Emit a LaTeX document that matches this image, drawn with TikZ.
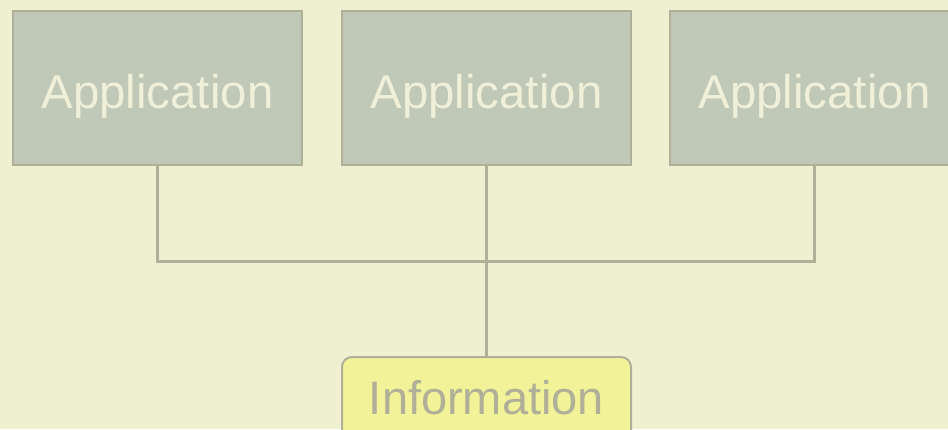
\documentclass[tikz,border=0pt]{standalone}
\usepackage{fontspec}
\setmainfont{Liberation Sans}
\definecolor{bgcol}{HTML}{EFF0D0}
\definecolor{appfill}{HTML}{C0C8B8}
\definecolor{edgecol}{HTML}{B0B098}
\definecolor{apptext}{HTML}{F0F0D8}
\definecolor{infofill}{HTML}{F2F298}
\tikzset{
  appbox/.style={draw=edgecol, line width=2pt, fill=appfill, text=apptext,
    minimum width=289pt, minimum height=154pt, inner sep=0pt,
    font=\fontsize{47.4pt}{50pt}\selectfont, text height=40pt, text depth=0pt},
  infobox/.style={draw=edgecol, line width=2pt, fill=infofill, text=edgecol,
    rounded corners=10pt, minimum width=289pt, minimum height=94pt, inner sep=0pt,
    font=\fontsize{47pt}{50pt}\selectfont, text height=20pt, text depth=0pt},
  link/.style={draw=edgecol, line width=3pt}
}
\begin{document}
\begin{tikzpicture}[x=1pt,y=-1pt]
  \fill[bgcol] (0,0) rectangle (948,429);
  \useasboundingbox (0,0) rectangle (948,429);
  \clip (0,0) rectangle (948,429);
  % three application boxes and the shared information store
  \node[appbox] (a1) at (157.5,88) {Application};
  \node[appbox] (a2) at (486.5,88) {Application};
  \node[appbox] (a3) at (814.5,88) {Application};
  \node[infobox] (info) at (486.5,404) {Information};
  % bus joining the applications to the store
  \coordinate (j) at (486.5,261);
  \draw[link] (a1.south) |- (j) -| (a3.south);
  \draw[link] (a2.south) -- (info.north);
\end{tikzpicture}
\end{document}
